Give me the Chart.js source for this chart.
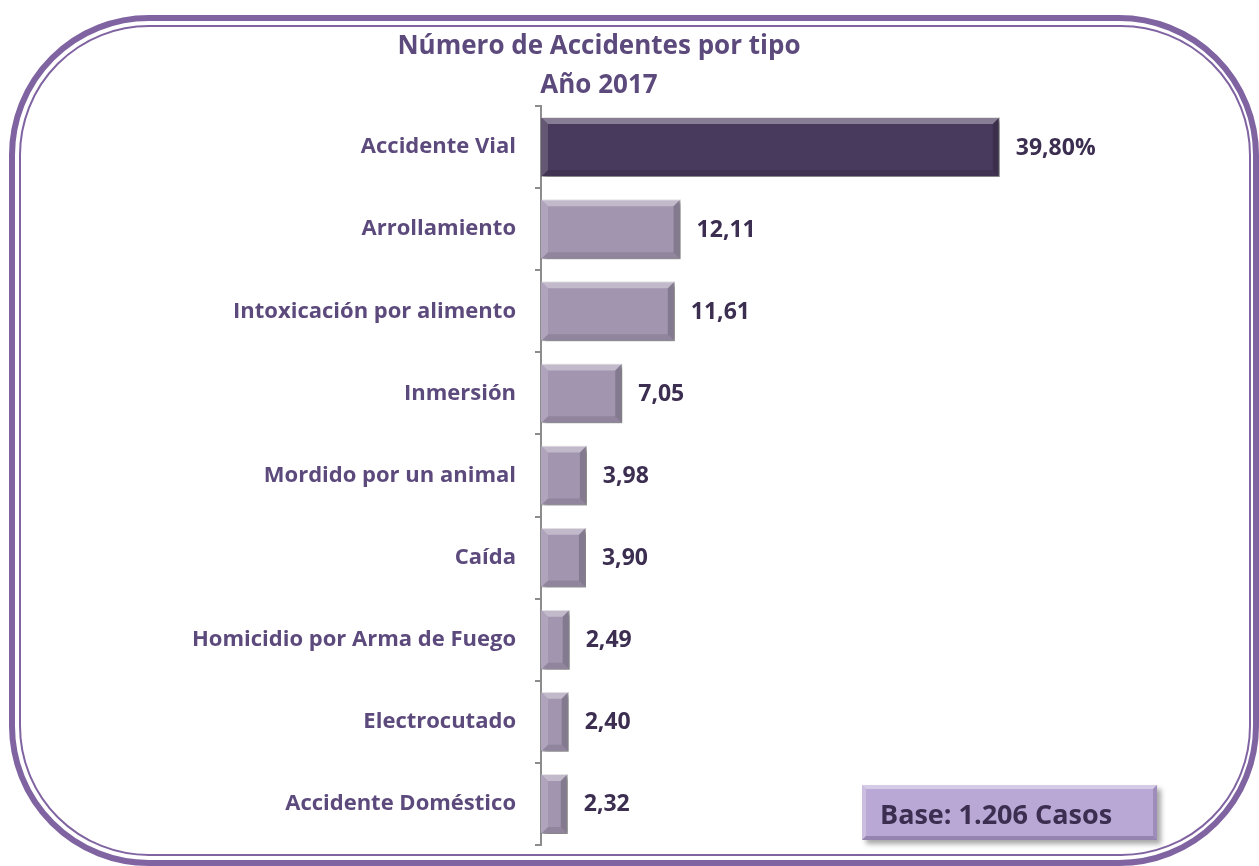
<!DOCTYPE html>
<html>
<head>
<meta charset="utf-8">
<script src="https://cdn.jsdelivr.net/npm/chart.js@4.4.1/dist/chart.umd.min.js"></script>
<style>
  html, body { margin: 0; padding: 0; background: #fff; }
  #wrap { position: relative; width: 1259px; height: 866px; overflow: hidden; }
  #marco1 { position: absolute; left: 9px; top: 15px; width: 1238px; height: 839px;
            border: 6px solid #8064a2; border-radius: 140px; }
  #marco2 { position: absolute; left: 19px; top: 25px; width: 1228px; height: 827px;
            border: 2px solid #8064a2; border-radius: 130px; }
  #grafico { position: absolute; left: 0; top: 0; }
  #base { position: absolute; left: 862px; top: 785px; width: 295px; height: 55px;
          background: #b9a8d5; box-sizing: border-box;
          border-top: 4px solid #d6cbe6; border-left: 4px solid #cbbde0;
          border-right: 4px solid #9e8cba; border-bottom: 4px solid #9583b0;
          box-shadow: 4px 4px 5px rgba(0,0,0,0.35);
          font: bold 27px "Open Sans", sans-serif; color: #3b2e50;
          line-height: 49px; padding-left: 14px; white-space: nowrap; }
</style>
</head>
<body>
<div id="wrap">
  <canvas id="grafico" width="1259" height="866"></canvas>
  <div id="marco1"></div>
  <div id="marco2"></div>
  <div id="base">Base: 1.206 Casos</div>
</div>
<script>
// Número de accidentes por tipo, año 2017
const tipos = ["Accidente Vial", "Arrollamiento", "Intoxicación por alimento", "Inmersión",
  "Mordido por un animal", "Caída", "Homicidio por Arma de Fuego", "Electrocutado", "Accidente Doméstico"];
const porcentajes = [39.80, 12.11, 11.61, 7.05, 3.98, 3.90, 2.49, 2.40, 2.32];
const etiquetas = ["39,80%", "12,11", "11,61", "7,05", "3,98", "3,90", "2,49", "2,40", "2,32"];

const colores = porcentajes.map((v, i) => i === 0 ? "#483a5c" : "#a195af");

// sombra y biselado de las barras, y los valores al final de cada barra
const biselPlugin = {
  id: 'bisel',
  beforeDatasetsDraw(chart) {
    const ctx = chart.ctx;
    ctx.save();
    ctx.shadowColor = 'rgba(0,0,0,0.35)';
    ctx.shadowOffsetX = 3;
    ctx.shadowOffsetY = 3;
    ctx.shadowBlur = 4;
  },
  afterDatasetsDraw(chart) {
    const ctx = chart.ctx;
    ctx.restore();
    const meta = chart.getDatasetMeta(0);
    meta.data.forEach((bar, i) => {
      const x0 = bar.base, x1 = bar.x;
      const y0 = bar.y - bar.height / 2, y1 = bar.y + bar.height / 2;
      const b = 7;
      // arriba claro
      ctx.fillStyle = 'rgba(255,255,255,0.35)';
      ctx.beginPath();
      ctx.moveTo(x0, y0); ctx.lineTo(x1, y0); ctx.lineTo(x1 - b, y0 + b); ctx.lineTo(x0 + b, y0 + b);
      ctx.closePath(); ctx.fill();
      // izquierda
      ctx.fillStyle = 'rgba(255,255,255,0.15)';
      ctx.beginPath();
      ctx.moveTo(x0, y0); ctx.lineTo(x0 + b, y0 + b); ctx.lineTo(x0 + b, y1 - b); ctx.lineTo(x0, y1);
      ctx.closePath(); ctx.fill();
      // derecha oscura
      ctx.fillStyle = 'rgba(0,0,0,0.18)';
      ctx.beginPath();
      ctx.moveTo(x1, y0); ctx.lineTo(x1, y1); ctx.lineTo(x1 - b, y1 - b); ctx.lineTo(x1 - b, y0 + b);
      ctx.closePath(); ctx.fill();
      // abajo oscura
      ctx.fillStyle = 'rgba(0,0,0,0.1)';
      ctx.beginPath();
      ctx.moveTo(x0, y1); ctx.lineTo(x1, y1); ctx.lineTo(x1 - b, y1 - b); ctx.lineTo(x0 + b, y1 - b);
      ctx.closePath(); ctx.fill();

      ctx.fillStyle = '#3b2e50';
      ctx.font = 'bold 23px "Open Sans", sans-serif';
      ctx.textAlign = 'left';
      ctx.textBaseline = 'middle';
      ctx.fillText(etiquetas[i], x1 + 16, bar.y + 1);
    });
  }
};

const ctx = document.getElementById('grafico').getContext('2d');
const grafico = new Chart(ctx, {
  type: 'bar',
  data: {
    labels: tipos,
    datasets: [{
      data: porcentajes,
      backgroundColor: colores,
      borderColor: "rgba(0,0,0,0.15)",
      borderWidth: 1,
      categoryPercentage: 1,
      barPercentage: 0.73
    }]
  },
  options: {
    indexAxis: 'y',
    responsive: false,
    animation: false,
    layout: { padding: { top: 17, right: 61, bottom: 21, left: 0 } },
    plugins: {
      legend: { display: false },
      tooltip: { enabled: false },
      title: {
        display: true,
        text: ["Número de Accidentes por tipo", "Año 2017"],
        color: "#5c4a7d",
        font: { family: "'Open Sans', sans-serif", size: 26, weight: "bold", lineHeight: 1.5 },
        padding: { top: 10, bottom: 1 }
      }
    },
    scales: {
      x: {
        display: false,
        min: 0,
        max: 57
      },
      y: {
        afterFit(scale) {
          scale.width = 541;
          scale.paddingTop = 0;
          scale.paddingBottom = 0;
        },
        border: { display: true, color: "#8c8c8c", width: 2 },
        grid: { drawOnChartArea: false, drawTicks: true, tickLength: 6, color: "#8c8c8c", lineWidth: 2 },
        ticks: {
          color: "#5c4a7d",
          padding: 19,
          font: { family: "'Open Sans', sans-serif", size: 22, weight: "bold" }
        }
      }
    }
  },
  plugins: [biselPlugin]
});
</script>
</body>
</html>
